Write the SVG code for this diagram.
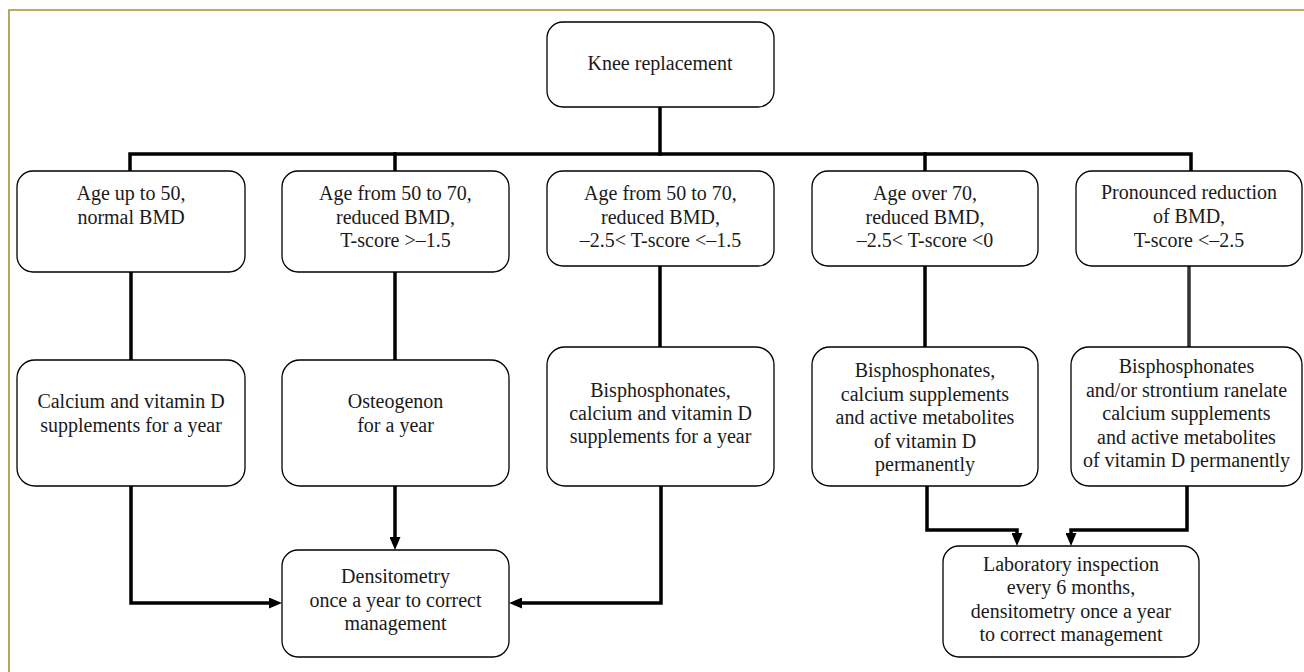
<svg xmlns="http://www.w3.org/2000/svg" width="1304" height="672" viewBox="0 0 1304 672">
<style>
.box{fill:#fff;stroke:#000;stroke-width:1.3}
.t{font-family:"Liberation Serif","Times New Roman",serif;font-size:20px;fill:#1a1a1a;text-anchor:middle}
.c{fill:none;stroke:#000;stroke-width:3.5;stroke-linejoin:miter;stroke-linecap:square}
.frame{fill:none;stroke:#9d9535;stroke-width:1.6}
</style>
<defs>
<marker id="ah" markerUnits="userSpaceOnUse" markerWidth="13" markerHeight="11" refX="0" refY="5.5" orient="auto">
<path d="M0,0 L13,5.5 L0,11 z" fill="#000"/>
</marker>
</defs>
<rect width="1304" height="672" fill="#fff"/>
<path class="frame" d="M9,672 L9,10 L1304,10"/>
<g id="connectors">
<path class="c" d="M660,107 L660,154"/>
<path class="c" d="M130,171 L130,154 L1191,154 L1191,171"/>
<path class="c" d="M395,154 L395,171"/>
<path class="c" d="M925,154 L925,171"/>
<path class="c" d="M131,272 L131,360"/>
<path class="c" d="M395,272 L395,360"/>
<path class="c" d="M660,266 L660,347"/>
<path class="c" d="M925,266 L925,347"/>
<path class="c" d="M1189,266 L1189,347" style="stroke:#333"/>
<path class="c" d="M131,486 L131,603 L269,603" marker-end="url(#ah)"/>
<path class="c" d="M395,486 L395,537" marker-end="url(#ah)"/>
<path class="c" d="M661,486 L661,603 L522,603" marker-end="url(#ah)"/>
<path class="c" d="M927,486 L927,530 L1017,530 L1017,533" marker-end="url(#ah)"/>
<path class="c" d="M1187,486 L1187,530 L1071,530 L1071,533" marker-end="url(#ah)"/>
</g>
<g id="n-knee">
<rect class="box" x="547" y="22" width="227" height="85" rx="16"/>
<text class="t" x="660" y="70">Knee replacement</text>
</g>
<g id="n-age1">
<rect class="box" x="17" y="171" width="228" height="101" rx="16"/>
<text class="t" x="131" y="200">Age up to 50,</text>
<text class="t" x="131" y="223.5">normal BMD</text>
</g>
<g id="n-age2">
<rect class="box" x="282" y="171" width="227" height="101" rx="16"/>
<text class="t" x="395.5" y="200">Age from 50 to 70,</text>
<text class="t" x="395.5" y="223.5">reduced BMD,</text>
<text class="t" x="395.5" y="247">T-score &gt;–1.5</text>
</g>
<g id="n-age3">
<rect class="box" x="547" y="171" width="227" height="95" rx="16"/>
<text class="t" x="660.5" y="200">Age from 50 to 70,</text>
<text class="t" x="660.5" y="223.5">reduced BMD,</text>
<text class="t" x="660.5" y="247">–2.5&lt; T-score &lt;–1.5</text>
</g>
<g id="n-age4">
<rect class="box" x="812" y="171" width="226" height="95" rx="16"/>
<text class="t" x="925" y="200">Age over 70,</text>
<text class="t" x="925" y="223.5">reduced BMD,</text>
<text class="t" x="925" y="247">–2.5&lt; T-score &lt;0</text>
</g>
<g id="n-age5">
<rect class="box" x="1076" y="171" width="226" height="95" rx="16"/>
<text class="t" x="1189" y="199">Pronounced reduction</text>
<text class="t" x="1189" y="223">of BMD,</text>
<text class="t" x="1189" y="247">T-score &lt;–2.5</text>
</g>
<g id="n-tr1">
<rect class="box" x="17" y="360" width="228" height="126" rx="18"/>
<text class="t" x="131" y="408">Calcium and vitamin D</text>
<text class="t" x="131" y="432">supplements for a year</text>
</g>
<g id="n-tr2">
<rect class="box" x="282" y="360" width="227" height="126" rx="18"/>
<text class="t" x="395.5" y="408">Osteogenon</text>
<text class="t" x="395.5" y="432">for a year</text>
</g>
<g id="n-tr3">
<rect class="box" x="547" y="347" width="227" height="139" rx="18"/>
<text class="t" x="660.5" y="397">Bisphosphonates,</text>
<text class="t" x="660.5" y="420">calcium and vitamin D</text>
<text class="t" x="660.5" y="443">supplements for a year</text>
</g>
<g id="n-tr4">
<rect class="box" x="812" y="347" width="226" height="139" rx="18"/>
<text class="t" x="925" y="377">Bisphosphonates,</text>
<text class="t" x="925" y="400.5">calcium supplements</text>
<text class="t" x="925" y="424">and active metabolites</text>
<text class="t" x="925" y="447.5">of vitamin D</text>
<text class="t" x="925" y="471">permanently</text>
</g>
<g id="n-tr5">
<rect class="box" x="1071" y="347" width="231" height="139" rx="18"/>
<text class="t" x="1186.5" y="373">Bisphosphonates</text>
<text class="t" x="1186.5" y="396.5">and/or strontium ranelate</text>
<text class="t" x="1186.5" y="420">calcium supplements</text>
<text class="t" x="1186.5" y="443.5">and active metabolites</text>
<text class="t" x="1186.5" y="467">of vitamin D permanently</text>
</g>
<g id="n-dens">
<rect class="box" x="282" y="550" width="227" height="107" rx="16"/>
<text class="t" x="395.5" y="583">Densitometry</text>
<text class="t" x="395.5" y="607">once a year to correct</text>
<text class="t" x="395.5" y="630">management</text>
</g>
<g id="n-lab">
<rect class="box" x="943" y="546" width="256" height="111" rx="16"/>
<text class="t" x="1071" y="571">Laboratory inspection</text>
<text class="t" x="1071" y="594">every 6 months,</text>
<text class="t" x="1071" y="617.5">densitometry once a year</text>
<text class="t" x="1071" y="641">to correct management</text>
</g>
</svg>
